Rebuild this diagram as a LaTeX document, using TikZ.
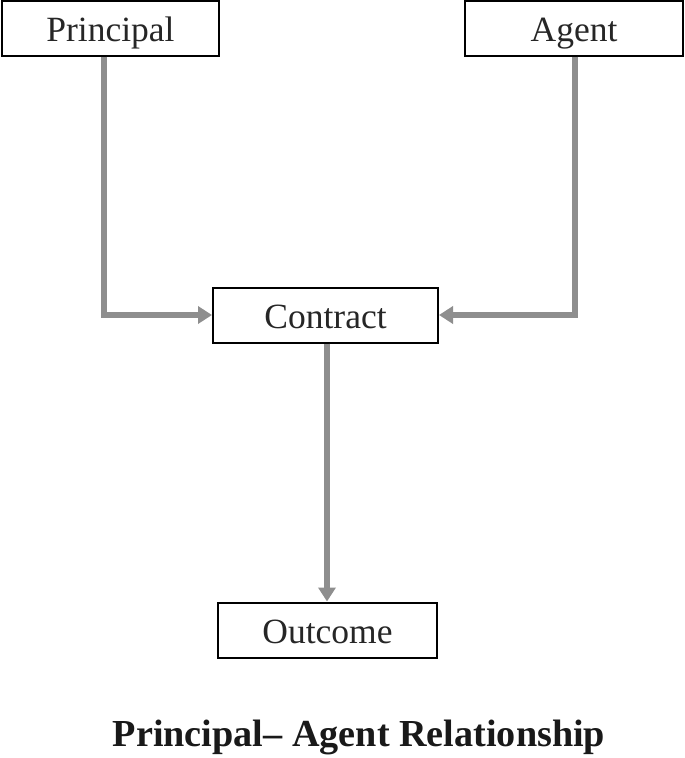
\documentclass[tikz,border=0pt]{standalone}
\usepackage{fontspec}
\setmainfont{Liberation Serif}
\usetikzlibrary{arrows.meta}
\definecolor{conn}{HTML}{8E8E8E}
\tikzset{
  box/.style={draw=black, line width=2pt, fill=white, inner sep=0pt,
    text height=41pt, text depth=14pt,
    font=\fontsize{35.5}{40}\selectfont, text=black!85},
  link/.style={draw=conn, line width=5.5pt, -{Triangle[length=14pt,width=17pt]}}
}
\begin{document}
\begin{tikzpicture}[x=1pt,y=-1pt]
\useasboundingbox (0,0) rectangle (685,758);
\node[box, minimum width=217pt] (P) at (110.5,28) {Principal};
\node[box, minimum width=218pt] (A) at (574,28) {Agent};
\node[box, minimum width=225pt] (C) at (325.5,315) {Contract};
\node[box, minimum width=219pt] (O) at (327.5,630) {Outcome};
\node[font=\bfseries\fontsize{38.2}{44}\selectfont, text=black!90, anchor=base] (T) at (359,746) {Principal– Agent Relationship};
\draw[link] ([xshift=-6.5pt]P.south) |- (C.west);
\draw[link] ([xshift=1pt]A.south) |- (C.east);
\draw[link] ([xshift=1.5pt]C.south) -- ([xshift=-0.5pt]O.north);
\end{tikzpicture}
\end{document}
